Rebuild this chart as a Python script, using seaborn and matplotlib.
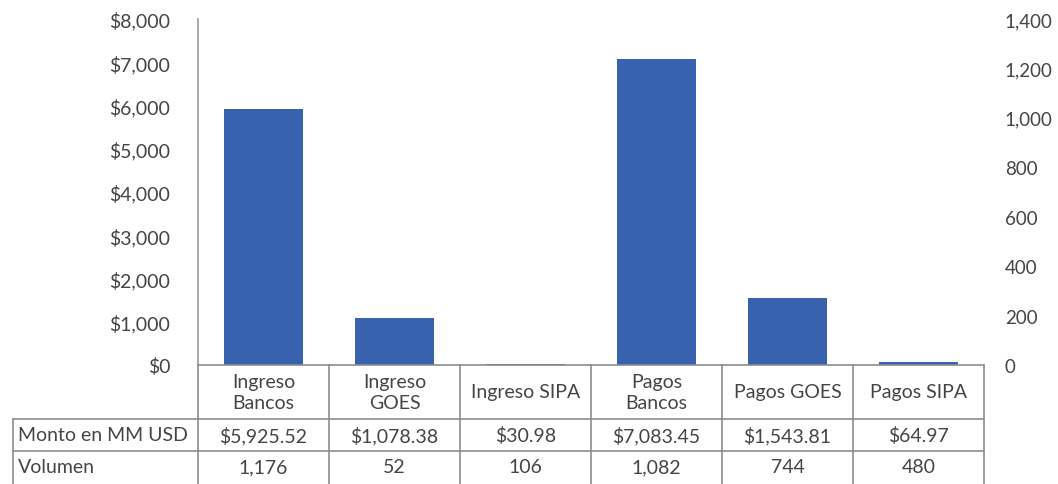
import matplotlib
matplotlib.use("Agg")
import matplotlib.pyplot as plt
from matplotlib.lines import Line2D
from matplotlib.transforms import blended_transform_factory
from matplotlib.ticker import FuncFormatter
import seaborn as sns
import pandas as pd

categorias = ["Ingreso Bancos", "Ingreso GOES", "Ingreso SIPA", "Pagos Bancos", "Pagos GOES", "Pagos SIPA"]
encabezados = ["Ingreso\nBancos", "Ingreso\nGOES", "Ingreso SIPA", "Pagos\nBancos", "Pagos GOES", "Pagos SIPA"]
montos = [5925.52, 1078.38, 30.98, 7083.45, 1543.81, 64.97]
volumen = [1176, 52, 106, 1082, 744, 480]
montos_txt = ["$5,925.52", "$1,078.38", "$30.98", "$7,083.45", "$1,543.81", "$64.97"]
volumen_txt = ["1,176", "52", "106", "1,082", "744", "480"]
filas = ["Monto en MM USD", "Volumen"]

sns.set_theme(style="white")
plt.rcParams['font.family'] = ['Lato', 'DejaVu Sans']
txt_color = "#454545"
line_color = "#8c8c8c"
bar_color = "#3862ad"

W, H = 1058, 485
fig = plt.figure(figsize=(W / 100, H / 100), dpi=100)
x0, x1 = 198, 984
y_top, y_bot = 20, 366
ax = fig.add_axes([x0 / W, 1 - y_bot / H, (x1 - x0) / W, (y_bot - y_top) / H])

df = pd.DataFrame({"cat": categorias, "monto": montos})
sns.barplot(data=df, x="cat", y="monto", color=bar_color, saturation=1, width=0.61,
            linewidth=0, ax=ax)
ax.set_xlim(-0.5, 5.5)
ax.set_ylim(0, 8000)
ax.set_yticks(range(0, 8001, 1000))
ax.yaxis.set_major_formatter(FuncFormatter(lambda v, p: f"${v:,.0f}"))
ax.set_xticks([])
ax.set_xlabel("")
ax.set_ylabel("")
fs = 14
ax.tick_params(axis="y", length=0, pad=20, labelsize=fs, labelcolor=txt_color)
for s in ["top", "right", "bottom"]:
    ax.spines[s].set_visible(False)
ax.spines["left"].set_color("#999999")
ax.spines["left"].set_linewidth(1.2)

ax2 = ax.twinx()
ax2.set_ylim(0, 1400)
ax2.set_yticks(range(0, 1401, 200))
ax2.yaxis.set_major_formatter(FuncFormatter(lambda v, p: f"{v:,.0f}"))
ax2.tick_params(axis="y", length=0, pad=15, labelsize=13.5, labelcolor=txt_color)
for s in ["top", "right", "bottom", "left"]:
    ax2.spines[s].set_visible(False)

# table
tr = blended_transform_factory(ax.transData, fig.transFigure)
def fy(py):
    return 1 - py / H

rows_y = [366, 420, 452, 500]
lw = 1.2
for py in rows_y[:3]:
    fig.add_artist(Line2D([-0.5, 5.5], [fy(py), fy(py)], transform=tr, color=line_color, lw=lw))
for py in rows_y[1:3]:
    fig.add_artist(Line2D([13 / W, x0 / W], [fy(py), fy(py)], transform=fig.transFigure, color=line_color, lw=lw))
for i in range(7):
    xb = i - 0.5
    fig.add_artist(Line2D([xb, xb], [fy(366), fy(500)], transform=tr, color=line_color, lw=lw))
fig.add_artist(Line2D([13 / W, 13 / W], [fy(420), fy(500)], transform=fig.transFigure, color=line_color, lw=lw))

for i in range(6):
    fig.text(i, fy(393), encabezados[i], transform=tr, ha="center", va="center",
             fontsize=fs, color=txt_color, linespacing=1.25)
    fig.text(i, fy(436), montos_txt[i], transform=tr, ha="center", va="center",
             fontsize=fs, color=txt_color)
    fig.text(i, fy(468), volumen_txt[i], transform=tr, ha="center", va="center",
             fontsize=fs, color=txt_color)
for j, lab in enumerate(filas):
    fig.text(18 / W, fy([436, 468][j]), lab, ha="left", va="center", fontsize=fs, color=txt_color)

fig.savefig("out.png", dpi=100)
